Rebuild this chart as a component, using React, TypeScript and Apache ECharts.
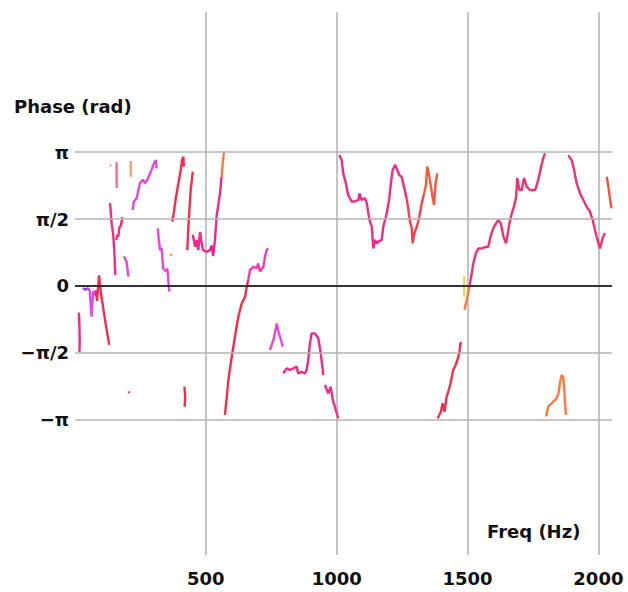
import React, { useEffect, useRef } from 'react';
import * as echarts from 'echarts';

const xTicks = [500, 1000, 1500, 2000];
const yTickValues = [-Math.PI, -Math.PI / 2, 0, Math.PI / 2, Math.PI];
const yTickLabels = ['−π', '−π/2', '0', 'π/2', 'π'];

const seg01 = [[15, -0.62], [17, -0.95], [18, -1.3], [17, -1.55]];
const seg02 = [[30, -0.05], [40, -0.09], [48, -0.05], [56, -0.1]];
const seg03 = [[56, -0.1], [60, -0.4], [63, -0.72], [67, -0.35], [70, -0.12], [76, -0.22], [80, -0.1]];
const seg04 = [[80, -0.1], [84, -0.35], [88, -0.05], [92, 0.25], [96, 0.02], [100, -0.2], [110, -0.6], [120, -1.0], [131, -1.38]];
const seg05 = [[134, 2.84], [137, 2.82]];
const seg06 = [[159, 2.9], [159, 2.6], [160, 2.3]];
const seg07 = [[213, 2.93], [213, 2.75], [214, 2.56]];
const seg08 = [[134, 1.95], [140, 1.47], [146, 1.2], [150, 0.84], [154, 0.26]];
const seg09 = [[157, 1.08], [162, 1.2], [166, 1.16], [169, 1.36], [176, 1.43], [181, 1.61]];
const seg10 = [[185, 0.69], [191, 0.65], [197, 0.57], [204, 0.22]];
const seg11 = [[205, -2.47], [207, -2.51]];
const seg12 = [[220, 1.78], [225, 1.98], [236, 2.06], [242, 2.25], [248, 2.41], [259, 2.49], [267, 2.41], [276, 2.49], [287, 2.64], [297, 2.8], [302, 2.88], [309, 2.95], [312, 2.76]];
const seg13 = [[316, 1.35], [320, 1.1], [325, 0.84], [331, 0.88], [337, 0.41], [348, 0.34], [353, 0.41], [360, -0.13]];
const seg14 = [[366, 0.75], [368, 0.71]];
const seg15 = [[372, 1.51], [378, 1.74], [386, 2.09], [395, 2.41], [404, 2.72], [409, 2.95], [414, 3.03], [416, 2.8]];
const seg16 = [[429, 0.84], [434, 1.47], [442, 2.25], [450, 2.68]];
const seg17 = [[450, 1.2], [459, 0.92], [465, 1.08], [471, 0.84], [478, 1.27], [484, 1.0], [490, 0.84], [503, 0.8], [516, 0.84], [522, 0.95], [528, 0.7], [535, 1.08], [541, 1.63], [554, 2.17], [560, 2.56]];
const seg18 = [[560, 2.56], [565, 2.9], [569, 3.14]];
const seg19 = [[418, -2.36], [421, -2.6], [419, -2.83]];
const seg20 = [[573, -3.02], [580, -2.6], [586, -2.2], [599, -1.66], [611, -1.19], [624, -0.72], [637, -0.41], [650, -0.25], [656, -0.02], [662, 0.14]];
const seg21 = [[662, 0.14], [669, 0.38], [681, 0.45], [694, 0.41], [700, 0.53], [707, 0.34], [720, 0.45], [726, 0.69], [732, 0.84], [739, 0.88]];
const seg22 = [[745, -1.5], [758, -1.27], [771, -0.88], [777, -1.07], [783, -1.19], [794, -1.42]];
const seg23 = [[796, -2.05], [809, -1.93], [822, -1.97], [834, -1.93], [847, -1.89], [853, -2.05], [866, -2.01], [879, -2.05], [885, -1.97], [891, -1.74], [898, -1.34], [904, -1.11], [917, -1.11], [930, -1.23], [939, -1.58], [949, -2.09]];
const seg24 = [[955, -2.32], [968, -2.52], [977, -2.36], [985, -2.67], [993, -2.83], [1006, -3.1]];
const seg25 = [[1010, 3.07], [1019, 2.95], [1025, 2.64], [1035, 2.41], [1044, 2.13], [1057, 1.98], [1070, 1.98], [1083, 2.02], [1087, 2.17], [1095, 2.02], [1108, 2.06], [1115, 1.94], [1125, 1.55], [1134, 1.39], [1140, 0.88], [1146, 1.08], [1153, 1.0], [1159, 1.04], [1172, 1.08], [1178, 1.39], [1191, 1.7], [1201, 2.06], [1207, 2.41], [1214, 2.72], [1223, 2.84], [1232, 2.72], [1239, 2.6], [1248, 2.56], [1257, 2.33], [1267, 2.06]];
const seg26 = [[1267, 2.06], [1274, 1.78], [1280, 1.51], [1287, 1.35], [1290, 1.0], [1297, 1.24], [1306, 1.39], [1316, 1.63], [1325, 1.94], [1334, 2.17]];
const seg27 = [[1334, 2.17], [1341, 2.37], [1346, 2.8], [1353, 2.6], [1359, 2.37], [1367, 2.06], [1372, 1.9], [1378, 2.41], [1384, 2.64]];
const seg28 = [[1386, -3.1], [1398, -2.95], [1405, -2.75], [1412, -2.95], [1420, -2.6], [1428, -2.45], [1435, -2.28], [1445, -1.97], [1452, -1.89], [1461, -1.74], [1468, -1.58], [1474, -1.31]];
const seg29 = [[1487, 0.22], [1487, -0.25]];
const seg30 = [[1488, -0.56], [1497, -0.33], [1507, -0.02]];
const seg31 = [[1507, -0.02], [1516, 0.3], [1522, 0.53], [1532, 0.77], [1541, 0.88], [1554, 0.88], [1567, 0.91], [1579, 0.92], [1588, 1.16], [1598, 1.35], [1609, 1.47], [1617, 1.55], [1627, 1.47], [1637, 1.16], [1647, 1.0], [1652, 1.16], [1660, 1.47], [1669, 1.7], [1677, 1.86], [1685, 2.06], [1690, 2.53], [1698, 2.25], [1707, 2.25], [1716, 2.53], [1726, 2.33], [1739, 2.25], [1758, 2.25], [1767, 2.41], [1777, 2.68], [1787, 2.95], [1796, 3.11]];
const seg32 = [[1885, 3.07], [1898, 2.95], [1907, 2.72], [1917, 2.41], [1930, 2.17], [1942, 2.02], [1955, 1.86], [1968, 1.74], [1978, 1.55], [1987, 1.31], [1993, 1.16], [2006, 0.88], [2016, 1.12], [2025, 1.24]];
const seg33 = [[2032, 2.56], [2038, 2.33], [2044, 2.06], [2050, 1.82]];
const seg34 = [[1800, -3.06], [1808, -2.83], [1821, -2.75], [1834, -2.67], [1840, -2.64], [1847, -2.52], [1853, -2.28], [1859, -2.09], [1866, -2.13], [1876, -3.02]];

const segments = [seg01, seg02, seg03, seg04, seg05, seg06, seg07, seg08, seg09, seg10, seg11, seg12, seg13, seg14, seg15, seg16, seg17, seg18, seg19, seg20, seg21, seg22, seg23, seg24, seg25, seg26, seg27, seg28, seg29, seg30, seg31, seg32, seg33, seg34];

const PINK = '#f2288a';
const MAG = '#e845dc';
const PURPLE = '#9a46ee';
const RED = '#f52c4c';
const ORANGE = '#ff7a3c';
const SALMON = '#ff6a86';
const YELLOW = '#f2d84a';
const segColors = [PINK, PURPLE, MAG, RED, SALMON, SALMON, '#ff9a60', PINK, PINK, MAG, RED, MAG, MAG, ORANGE, RED, RED, PINK, ORANGE, RED, RED, '#f03cb4', MAG, PINK, PINK, PINK, '#f5404a', '#f55a3c', RED, YELLOW, ORANGE, '#f2306a', '#f2306e', '#f5503c', ORANGE];

const FONT = 'DejaVu Sans';

export default function App() {
  const ref = useRef<HTMLDivElement>(null);
  useEffect(() => {
    const chart = echarts.init(ref.current!, null, { renderer: 'svg' });
    const dataSeries = segments.map((seg, i) => ({
      type: 'line',
      data: seg,
      showSymbol: false,
      symbol: 'none',
      silent: true,
      z: 3,
      lineStyle: { width: 2.4, color: segColors[i] },
    }));
    chart.setOption({
      animation: false,
      backgroundColor: '#ffffff',
      grid: { left: 75, right: 16, top: 12, bottom: 37, containLabel: false },
      xAxis: {
        type: 'value',
        min: 0,
        max: 2052,
        interval: 500,
        axisLine: { show: false },
        axisTick: { show: false },
        splitLine: { show: true, showMinLine: false, showMaxLine: false, lineStyle: { color: '#c4c4c4', width: 2 } },
        axisLabel: {
          showMinLabel: false,
          showMaxLabel: false,
          formatter: (v: number) => (xTicks.includes(v) ? String(v) : ''),
          fontSize: 18,
          fontWeight: 'bold',
          fontFamily: FONT,
          color: '#111',
          margin: 14,
        },
      },
      yAxis: { type: 'value', min: -6.307, max: 6.424, show: false },
      graphic: [
        { type: 'text', left: 14, top: 97, style: { text: 'Phase (rad)', fontSize: 18, fontWeight: 'bold', fontFamily: FONT, fill: '#111' } },
        { type: 'text', left: 487, top: 522, style: { text: 'Freq (Hz)', fontSize: 18, fontWeight: 'bold', fontFamily: FONT, fill: '#111' } },
      ],
      series: [
        {
          type: 'line',
          data: [],
          z: 1,
          silent: true,
          markLine: {
            silent: true,
            symbol: ['none', 'none'],
            animation: false,
            label: { show: true, position: 'start', distance: 6, fontSize: 18, fontWeight: 'bold', fontFamily: FONT, color: '#111' },
            data: yTickValues.map((v, i) => ({
              yAxis: v,
              lineStyle: { color: v === 0 ? '#333' : '#b4b4b4', width: v === 0 ? 2 : 1.5, type: 'solid' },
              label: { formatter: yTickLabels[i] },
            })),
          },
        },
        ...dataSeries,
      ],
    });
    return () => chart.dispose();
  }, []);
  return <div ref={ref} style={{ position: 'fixed', left: 0, top: 0, width: 628, height: 592 }} />;
}
